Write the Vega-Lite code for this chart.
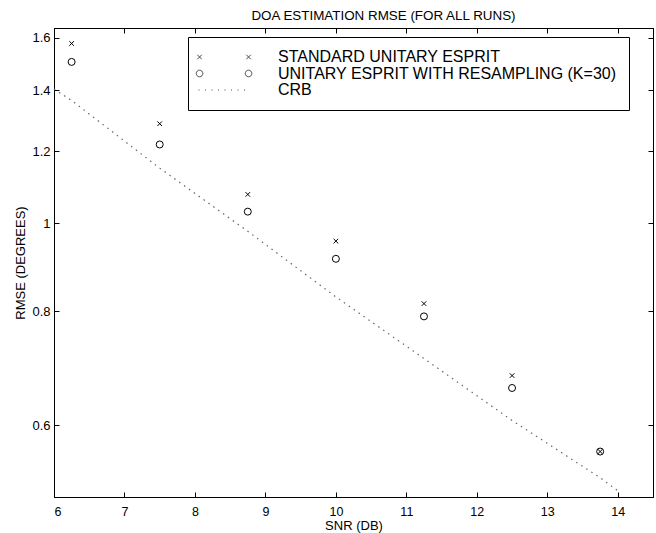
{
  "$schema": "https://vega.github.io/schema/vega-lite/v6.json",
  "width": 599,
  "height": 469,
  "autosize": "none",
  "padding": {"left": 54, "top": 28, "right": 3, "bottom": 36},
  "background": "white",
  "config": {
    "font": "Liberation Sans",
    "view": {"stroke": "black", "strokeWidth": 1},
    "axis": {
      "grid": false,
      "domainColor": "black",
      "tickColor": "black",
      "labelColor": "black",
      "titleColor": "black",
      "labelFont": "Liberation Sans",
      "titleFont": "Liberation Sans",
      "labelFontSize": 13,
      "titleFontSize": 13,
      "titleFontWeight": "normal",
      "tickSize": -5
    }
  },
  "title": {
    "text": "DOA ESTIMATION RMSE (FOR ALL RUNS)",
    "font": "Liberation Sans",
    "fontSize": 13.4,
    "fontWeight": "normal",
    "color": "black",
    "anchor": "middle",
    "frame": "group",
    "dx": 30,
    "offset": -6,
    "baseline": "alphabetic"
  },
  "data": {
    "values": [
      {"series": "STANDARD UNITARY ESPRIT", "snr": 6.25, "rmse": 1.577},
      {"series": "STANDARD UNITARY ESPRIT", "snr": 7.5, "rmse": 1.287},
      {"series": "STANDARD UNITARY ESPRIT", "snr": 8.75, "rmse": 1.076},
      {"series": "STANDARD UNITARY ESPRIT", "snr": 10, "rmse": 0.956},
      {"series": "STANDARD UNITARY ESPRIT", "snr": 11.25, "rmse": 0.816},
      {"series": "STANDARD UNITARY ESPRIT", "snr": 12.5, "rmse": 0.68},
      {"series": "STANDARD UNITARY ESPRIT", "snr": 13.75, "rmse": 0.561},
      {"series": "UNITARY ESPRIT WITH RESAMPLING (K=30)", "snr": 6.25, "rmse": 1.505},
      {"series": "UNITARY ESPRIT WITH RESAMPLING (K=30)", "snr": 7.5, "rmse": 1.221},
      {"series": "UNITARY ESPRIT WITH RESAMPLING (K=30)", "snr": 8.75, "rmse": 1.03},
      {"series": "UNITARY ESPRIT WITH RESAMPLING (K=30)", "snr": 10, "rmse": 0.914},
      {"series": "UNITARY ESPRIT WITH RESAMPLING (K=30)", "snr": 11.25, "rmse": 0.79},
      {"series": "UNITARY ESPRIT WITH RESAMPLING (K=30)", "snr": 12.5, "rmse": 0.659},
      {"series": "UNITARY ESPRIT WITH RESAMPLING (K=30)", "snr": 13.75, "rmse": 0.561},
      {"series": "CRB", "snr": 6, "rmse": 1.405},
      {"series": "CRB", "snr": 6.25, "rmse": 1.365},
      {"series": "CRB", "snr": 7.5, "rmse": 1.15},
      {"series": "CRB", "snr": 8.75, "rmse": 0.98},
      {"series": "CRB", "snr": 10, "rmse": 0.83},
      {"series": "CRB", "snr": 11.25, "rmse": 0.71},
      {"series": "CRB", "snr": 12.5, "rmse": 0.607},
      {"series": "CRB", "snr": 13.75, "rmse": 0.525},
      {"series": "CRB", "snr": 14, "rmse": 0.508}
    ]
  },
  "layer": [
    {
      "transform": [{"filter": "datum.series === 'CRB'"}],
      "mark": {"type": "line", "color": "#666666", "strokeWidth": 1.2, "strokeDash": [1.5, 4.5]},
      "encoding": {
        "x": {
          "field": "snr", "type": "quantitative",
          "scale": {"domain": [6, 14.5], "nice": false, "zero": false},
          "axis": {"orient": "bottom", "values": [6, 7, 8, 9, 10, 11, 12, 13, 14], "title": "SNR (DB)", "labelFontSize": 12.5, "labelPadding": 13, "titlePadding": 2}
        },
        "y": {
          "field": "rmse", "type": "quantitative",
          "scale": {"type": "log", "domain": [0.5, 1.64], "nice": false, "zero": false},
          "axis": {"orient": "left", "values": [0.6, 0.8, 1, 1.2, 1.4, 1.6], "format": "~g", "title": "RMSE (DEGREES)", "labelPadding": 9, "titlePadding": 4}
        }
      }
    },
    {
      "transform": [{"filter": "datum.series === 'STANDARD UNITARY ESPRIT'"}],
      "mark": {"type": "point", "shape": "M-1,-1L1,1M-1,1L1,-1", "size": 21, "color": "black", "filled": false, "strokeWidth": 1, "opacity": 1},
      "encoding": {
        "x": {
          "field": "snr", "type": "quantitative",
          "scale": {"domain": [6, 14.5], "nice": false, "zero": false},
          "axis": {"orient": "top", "values": [6, 7, 8, 9, 10, 11, 12, 13, 14], "labels": false, "title": null}
        },
        "y": {
          "field": "rmse", "type": "quantitative",
          "scale": {"type": "log", "domain": [0.5, 1.64], "nice": false, "zero": false},
          "axis": {"orient": "right", "values": [0.6, 0.8, 1, 1.2, 1.4, 1.6], "labels": false, "title": null}
        }
      }
    },
    {
      "transform": [{"filter": "datum.series === 'UNITARY ESPRIT WITH RESAMPLING (K=30)'"}],
      "mark": {"type": "point", "shape": "circle", "size": 49, "color": "black", "filled": false, "strokeWidth": 1, "opacity": 1},
      "encoding": {
        "x": {"field": "snr", "type": "quantitative", "scale": {"domain": [6, 14.5], "nice": false, "zero": false}, "axis": null},
        "y": {"field": "rmse", "type": "quantitative", "scale": {"type": "log", "domain": [0.5, 1.64], "nice": false, "zero": false}, "axis": null}
      }
    },
    {
      "transform": [{"filter": "datum.snr < 0"}],
      "mark": {"type": "point", "color": "black", "filled": false, "strokeWidth": 1},
      "encoding": {
        "x": {"field": "snr", "type": "quantitative", "scale": {"domain": [6, 14.5], "nice": false, "zero": false}, "axis": null},
        "y": {"field": "rmse", "type": "quantitative", "scale": {"type": "log", "domain": [0.5, 1.64], "nice": false, "zero": false}, "axis": null},
        "shape": {
          "field": "series", "type": "nominal",
          "scale": {
            "domain": ["STANDARD UNITARY ESPRIT", "UNITARY ESPRIT WITH RESAMPLING (K=30)", "CRB"],
            "range": [
              "M-2.14,-0.45L-1.24,0.45M-2.14,0.45L-1.24,-0.45M7.66,-0.45L8.56,0.45M7.66,0.45L8.56,-0.45",
              "M-1.03,0A0.66,0.66 0 1,1 -2.35,0A0.66,0.66 0 1,1 -1.03,0M8.77,0A0.66,0.66 0 1,1 7.45,0A0.66,0.66 0 1,1 8.77,0",
              "M-1.9,0h0.2M-0.6,0h0.2M0.7,0h0.2M2,0h0.2M3.3,0h0.2M4.6,0h0.2M5.9,0h0.2M7.2,0h0.2"
            ]
          },
          "legend": {
            "orient": "none",
            "legendX": 134,
            "legendY": 9,
            "title": null,
            "padding": 12,
            "strokeColor": "black",
            "fillColor": "white",
            "symbolSize": 100,
            "symbolStrokeWidth": 1,
            "symbolStrokeColor": "black",
            "symbolFillColor": "transparent",
            "labelFont": "Liberation Sans",
            "labelFontSize": 16,
            "labelColor": "black",
            "labelOffset": 62,
            "labelLimit": 500,
            "rowPadding": 0.5
          }
        }
      }
    }
  ],
  "resolve": {"axis": {"x": "independent", "y": "independent"}}
}
